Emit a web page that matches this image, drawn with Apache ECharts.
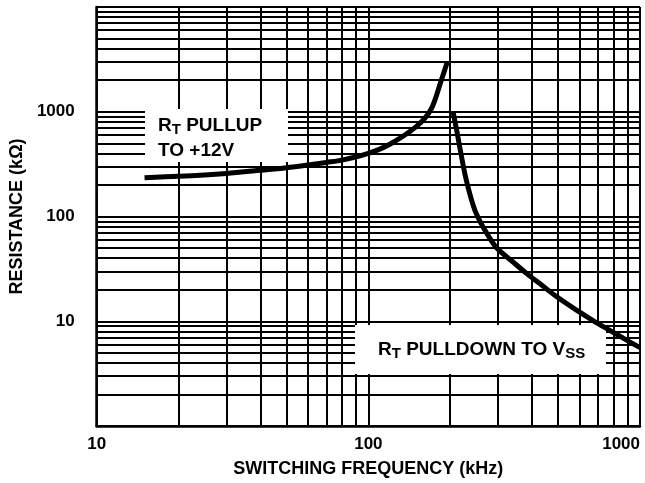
<!DOCTYPE html>
<html lang="en">
<head>
    <meta charset="UTF-8">
    <title>Resistance vs Switching Frequency</title>
    <script src="https://cdn.jsdelivr.net/npm/echarts@6/dist/echarts.min.js"></script>
    <style>
        body, html {
            margin: 0;
            padding: 0;
            width: 100%;
            height: 100%;
            background-color: #fff;
        }
        #chart {
            width: 645px;
            height: 483px;
        }
    </style>
</head>
<body>
    <div id="chart"></div>

    <script>
        // pullup curve (kHz, kOhm)
        var pullupFreq = [15, 20, 30, 40, 50, 60, 70, 80, 100, 120, 150, 170, 185, 195];
        var pullupRes = [235, 242, 258, 276, 292, 310, 328, 345, 400, 490, 720, 1050, 1950, 2950];

        // pulldown curve
        var pulldownFreq = [205, 212, 218, 227, 237, 247, 260, 273, 297, 340, 383, 440, 494, 580, 674, 780, 880, 1000];
        var pulldownRes = [1000, 640, 430, 250, 160, 114, 86, 69, 50, 37, 28.5, 21.6, 17.1, 12.9, 10.1, 8.1, 6.75, 5.6];

        // labelled ticks
        var xTickLabels = ['10', '100', '1000'];
        var yTickLabels = ['10', '100', '1000'];

        var FONT = '"Liberation Sans", Arial, Helvetica, sans-serif';

        // log paper minor lines (2..9 in each decade)
        function minorLines(lo, hi) {
            var out = [];
            for (var d = lo; d < hi; d *= 10) {
                for (var k = 2; k <= 9; k++) out.push(k * d);
            }
            return out;
        }
        var xMinor = minorLines(10, 1000);
        var yMinor = minorLines(1, 10000);

        var chart = echarts.init(document.getElementById('chart'));

        var gridLines = xMinor.map(function (v) { return { xAxis: v }; })
            .concat(yMinor.map(function (v) { return { yAxis: v }; }));

        var rich = {
            a: { fontSize: 19, fontWeight: 'bold', fontFamily: FONT, lineHeight: 25, fill: '#000' },
            s: { fontSize: 15, fontWeight: 'bold', fontFamily: FONT, lineHeight: 14, padding: [9, 0, 0, 0], fill: '#000' }
        };

        var option = {
            animation: false,
            grid: { left: 96, right: 5, top: 7, bottom: 57 },
            xAxis: {
                type: 'log',
                logBase: 10,
                min: 10,
                max: 1000,
                name: 'SWITCHING FREQUENCY (kHz)',
                nameLocation: 'middle',
                nameGap: 34,
                nameTextStyle: { color: '#000', fontSize: 18, fontWeight: 'bold', fontFamily: FONT },
                axisLine: { lineStyle: { color: '#000', width: 2.5 } },
                axisTick: { show: false },
                axisLabel: {
                    color: '#000', fontSize: 17, fontWeight: 'bold', fontFamily: FONT, margin: 10,
                    alignMaxLabel: 'right',
                    formatter: function (v) {
                        var s = String(Math.round(v));
                        return xTickLabels.indexOf(s) >= 0 ? s : '';
                    }
                },
                splitLine: { show: true, lineStyle: { color: '#000', width: 2 } }
            },
            yAxis: {
                type: 'log',
                logBase: 10,
                min: 1,
                max: 10000,
                name: 'RESISTANCE (kΩ)',
                nameLocation: 'middle',
                nameGap: 66,
                nameTextStyle: { color: '#000', fontSize: 18, fontWeight: 'bold', fontFamily: FONT },
                axisLine: { lineStyle: { color: '#000', width: 2.5 } },
                axisTick: { show: false },
                axisLabel: {
                    color: '#000', fontSize: 17, fontWeight: 'bold', fontFamily: FONT, margin: 22,
                    formatter: function (v) {
                        var s = String(Math.round(v));
                        return yTickLabels.indexOf(s) >= 0 ? s : '';
                    }
                },
                splitLine: { show: true, lineStyle: { color: '#000', width: 2 } }
            },
            graphic: {
                z: 100,
                elements: [
                    { type: 'rect', z: 100, shape: { x: 145, y: 109, width: 143, height: 53 }, style: { fill: '#fff' } },
                    {
                        type: 'text', z: 101, x: 158, y: 113,
                        style: {
                            text: '{a|R}{s|T}{a| PULLUP}\n{a|TO +12V}',
                            rich: rich, align: 'left', verticalAlign: 'top'
                        }
                    },
                    { type: 'rect', z: 100, shape: { x: 355, y: 325, width: 251, height: 49 }, style: { fill: '#fff' } },
                    {
                        type: 'text', z: 101, x: 378, y: 337,
                        style: {
                            text: '{a|R}{s|T}{a| PULLDOWN TO V}{s|SS}',
                            rich: rich, align: 'left', verticalAlign: 'top'
                        }
                    }
                ]
            },
            series: [
                {
                    name: 'grid',
                    type: 'line',
                    data: [],
                    z: 0,
                    silent: true,
                    markLine: {
                        silent: true,
                        z: 0,
                        symbol: ['none', 'none'],
                        label: { show: false },
                        lineStyle: { color: '#000', width: 2, type: 'solid' },
                        emphasis: { disabled: true },
                        data: gridLines
                    }
                },
                {
                    name: 'pullup',
                    type: 'line',
                    z: 200,
                    symbol: 'none',
                    smooth: 0.3,
                    lineStyle: { color: '#000', width: 5 },
                    data: pullupFreq.map(function (f, i) { return [f, pullupRes[i]]; })
                },
                {
                    name: 'pulldown',
                    type: 'line',
                    z: 200,
                    symbol: 'none',
                    smooth: 0.3,
                    lineStyle: { color: '#000', width: 5 },
                    data: pulldownFreq.map(function (f, i) { return [f, pulldownRes[i]]; })
                }
            ]
        };

        chart.setOption(option);
    </script>
</body>
</html>
